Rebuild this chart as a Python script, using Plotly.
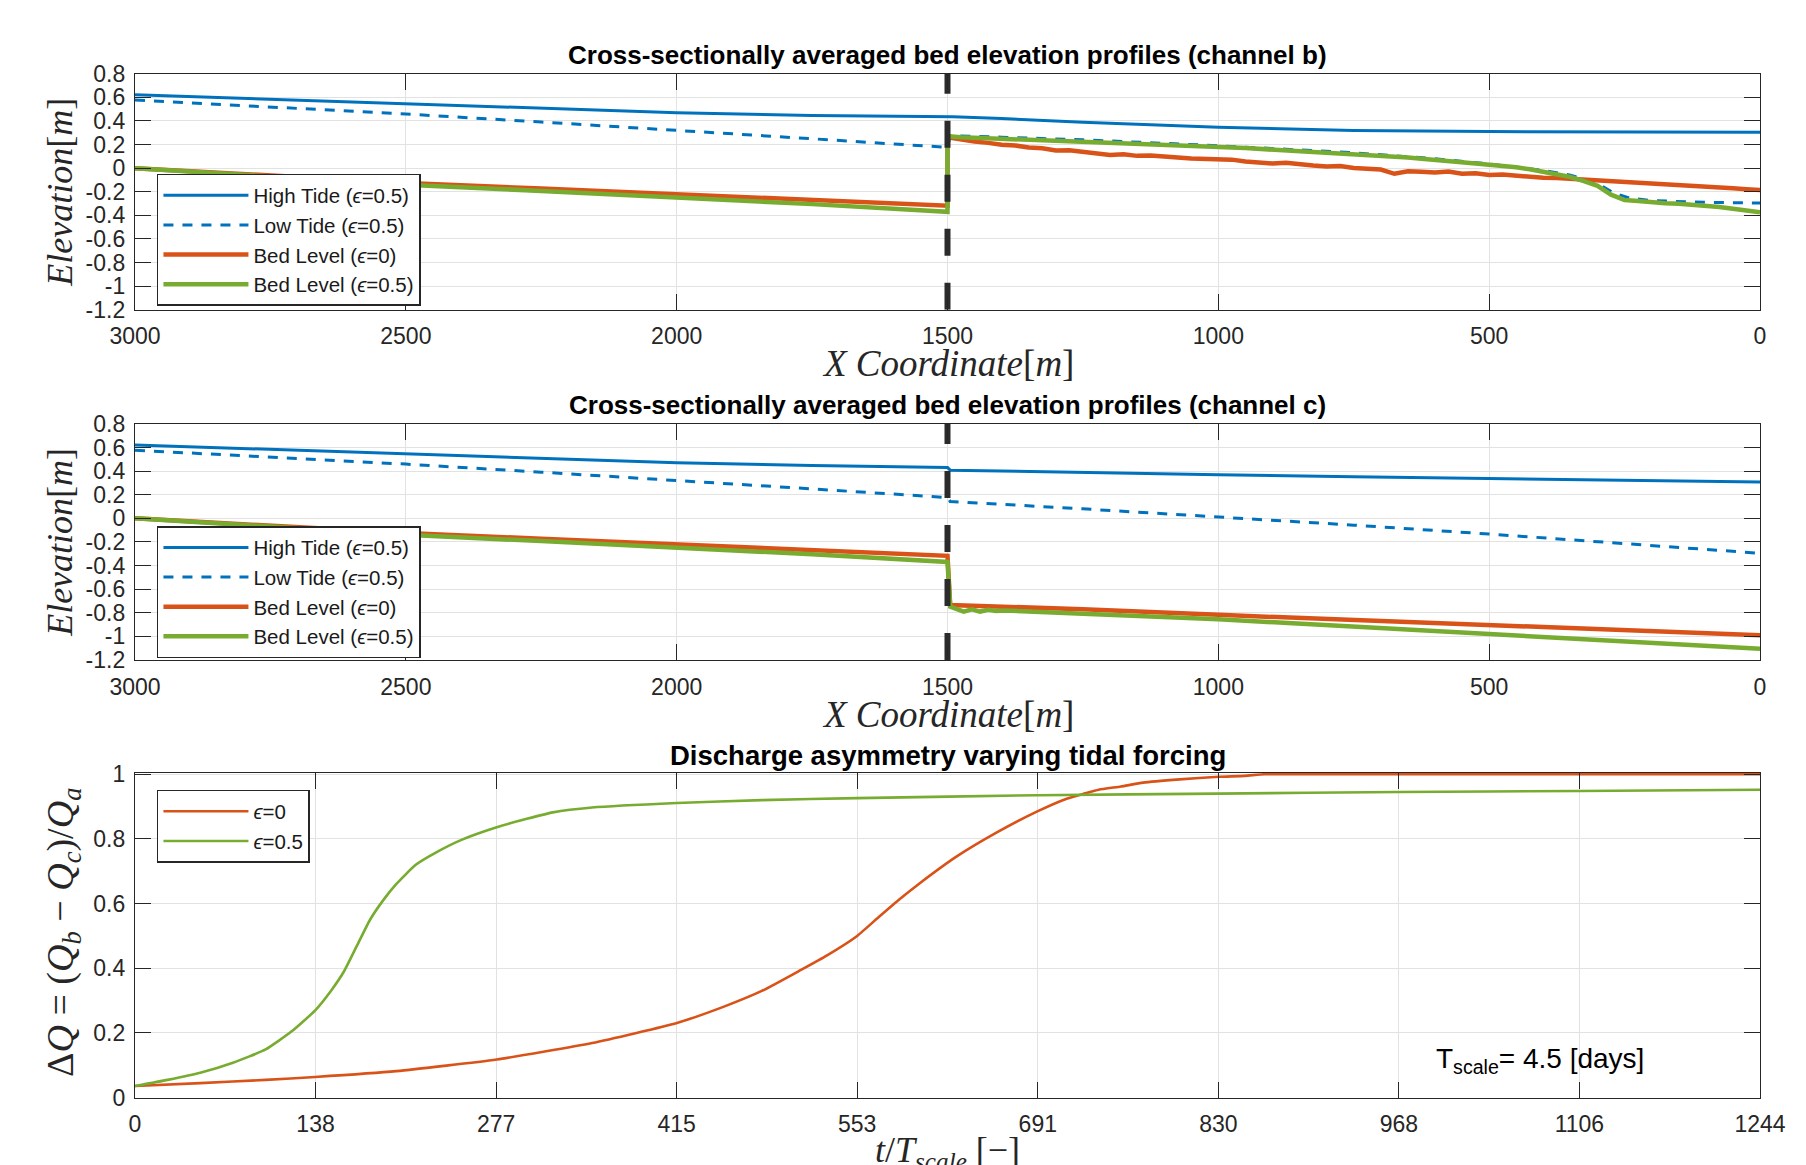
import plotly.graph_objects as go

# ---------------- data ----------------
# shared upstream reach (channel a), x from 3000 to 1500
x_a = [3000, 2750, 2500, 2250, 2000, 1750, 1500]
high_a = [0.622, 0.583, 0.543, 0.504, 0.470, 0.447, 0.431]
low_a = [0.577, 0.520, 0.459, 0.391, 0.317, 0.249, 0.176]
bed0_a = [0.0, -0.065, -0.125, -0.173, -0.220, -0.268, -0.318]
bed05_a = [0.0, -0.072, -0.140, -0.193, -0.245, -0.305, -0.370]

# channel b (1500 -> 0)
xb_high = [1495, 1490, 1400, 1250, 1000, 750, 500, 250, 0]
high_b = [0.433, 0.435, 0.420, 0.388, 0.346, 0.318, 0.310, 0.307, 0.305]
xb_low = [1495, 1400, 1250, 1000, 750, 600, 500, 400, 350, 300, 270, 240, 200, 100, 0]
low_b = [0.275, 0.262, 0.240, 0.190, 0.130, 0.080, 0.035, -0.020, -0.060, -0.130,
         -0.210, -0.255, -0.275, -0.290, -0.296]
xb_bed = list(range(1500, -1, -25))
bed0_b = [0.262, 0.240, 0.226, 0.214, 0.198, 0.192, 0.175, 0.168, 0.150, 0.152,
          0.138, 0.130, 0.112, 0.118, 0.104, 0.108, 0.095, 0.090, 0.082, 0.078,
          0.068, 0.072, 0.056, 0.052, 0.040, 0.046, 0.030, 0.022, 0.014, 0.018,
          0.002, -0.004, -0.012,
          -0.048, -0.026, -0.030, -0.036, -0.028, -0.048, -0.044, -0.058, -0.054,
          -0.066, -0.074, -0.082, -0.084, -0.090, -0.098, -0.104, -0.112, -0.118,
          -0.124, -0.130, -0.136, -0.142, -0.150, -0.156, -0.162, -0.170, -0.178,
          -0.186]
bed05_b = [0.270, 0.262, 0.258, 0.255, 0.250, 0.248, 0.242, 0.240, 0.236, 0.232,
           0.228, 0.222, 0.218, 0.214, 0.208, 0.204, 0.198, 0.194, 0.190, 0.184,
           0.180, 0.175, 0.170, 0.164, 0.158, 0.152, 0.146, 0.140, 0.132, 0.126,
           0.120, 0.112, 0.104,
           0.098, 0.090, 0.080, 0.072, 0.060, 0.050, 0.040, 0.028, 0.020, 0.008,
           -0.010, -0.030, -0.050, -0.075, -0.110, -0.150, -0.225, -0.270, -0.278,
           -0.290, -0.298, -0.302, -0.310, -0.322, -0.330, -0.345, -0.360, -0.375]

# channel c (1500 -> 0)
xc_high = [1495, 1400, 1250, 1000, 750, 500, 250, 0]
high_c = [0.408, 0.400, 0.387, 0.370, 0.352, 0.336, 0.322, 0.308]
xc_low = [1495, 1250, 1000, 750, 500, 250, 0]
low_c = [0.143, 0.080, 0.014, -0.058, -0.133, -0.212, -0.296]
xc_bed0 = [1495, 1400, 1250, 1000, 750, 500, 250, 0]
bed0_c = [-0.735, -0.745, -0.770, -0.818, -0.860, -0.903, -0.946, -0.990]
xc_bed05 = [1495, 1485, 1470, 1455, 1440, 1425, 1410, 1395, 1350, 1250, 1000, 750, 500, 250, 0]
bed05_c = [-0.748, -0.765, -0.790, -0.772, -0.790, -0.775, -0.785, -0.780, -0.790,
           -0.808, -0.855, -0.918, -0.980, -1.042, -1.105]

junction_x = [1500, 1500]
junction_y = [-1.2, 0.8]

# discharge asymmetry
t_e05 = [0, 25, 50, 75, 100, 120, 138, 150, 160, 170, 180, 190, 200, 215, 230, 250,
         277, 300, 320, 350, 415, 480, 553, 691, 830, 968, 1106, 1244.4]
dq_e05 = [0.036, 0.055, 0.077, 0.108, 0.149, 0.205, 0.270, 0.330, 0.390, 0.470, 0.550,
          0.610, 0.660, 0.720, 0.757, 0.797, 0.836, 0.862, 0.882, 0.897, 0.911, 0.920,
          0.926, 0.935, 0.940, 0.945, 0.948, 0.952]
t_e0 = [0, 50, 100, 138, 200, 277, 350, 415, 450, 480, 510, 530, 553, 570, 585, 600, 629,
        660, 691, 714, 727, 738, 755, 772, 800, 830, 850, 865, 900, 1000, 1100, 1244.4]
dq_e0 = [0.036, 0.045, 0.055, 0.064, 0.082, 0.118, 0.169, 0.231, 0.280, 0.330, 0.395,
         0.440, 0.500, 0.560, 0.612, 0.660, 0.745, 0.820, 0.885, 0.925, 0.940, 0.952,
         0.962, 0.974, 0.984, 0.992, 0.995, 1.000, 1.000, 1.000, 1.000, 1.000]

x_ticks = [3000, 2500, 2000, 1500, 1000, 500, 0]
x_ticktext = ["3000", "2500", "2000", "1500", "1000", "500", "0"]
y_ticks = [0.8, 0.6, 0.4, 0.2, 0, -0.2, -0.4, -0.6, -0.8, -1, -1.2]
y_ticktext = ["0.8", "0.6", "0.4", "0.2", "0", "-0.2", "-0.4", "-0.6", "-0.8", "-1", "-1.2"]
t_max = 1244.4
t_ticks = [k * t_max / 9 for k in range(10)]
t_ticktext = ["0", "138", "277", "415", "553", "691", "830", "968", "1106", "1244"]
q_ticks = [0, 0.2, 0.4, 0.6, 0.8, 1]
q_ticktext = ["0", "0.2", "0.4", "0.6", "0.8", "1"]

# ---------------- style ----------------
BLUE = "#0072BD"
RED = "#D95319"
GREEN = "#77AC30"
AX = "#262626"
SANS = "Liberation Sans, Arial, sans-serif"
SERIF = "Liberation Serif, Times New Roman, serif"

fig = go.Figure()


def profile(xax, yax, leg, xhi, yhi, xlo, ylo, xb0, yb0, xb5, yb5):
    fig.add_trace(go.Scatter(x=x_a + xhi, y=high_a + yhi, mode="lines", xaxis=xax, yaxis=yax,
                             legend=leg, name="High Tide (<i>ϵ</i>=0.5)",
                             line=dict(color=BLUE, width=3)))
    fig.add_trace(go.Scatter(x=x_a + xlo, y=low_a + ylo, mode="lines", xaxis=xax, yaxis=yax,
                             legend=leg, name="Low Tide (<i>ϵ</i>=0.5)",
                             line=dict(color=BLUE, width=3, dash="10px,9px")))
    fig.add_trace(go.Scatter(x=x_a + xb0, y=bed0_a + yb0, mode="lines", xaxis=xax, yaxis=yax,
                             legend=leg, name="Bed Level (<i>ϵ</i>=0)",
                             line=dict(color=RED, width=4.5)))
    fig.add_trace(go.Scatter(x=x_a + xb5, y=bed05_a + yb5, mode="lines", xaxis=xax, yaxis=yax,
                             legend=leg, name="Bed Level (<i>ϵ</i>=0.5)",
                             line=dict(color=GREEN, width=4.5)))
    fig.add_trace(go.Scatter(x=junction_x, y=[junction_y[0], junction_y[1]], mode="lines",
                             xaxis=xax, yaxis=yax, showlegend=False, hoverinfo="skip",
                             line=dict(color="#2b2b2b", width=6, dash="27px,27px")))


profile("x", "y", "legend", xb_high, high_b, xb_low, low_b, xb_bed, bed0_b, xb_bed, bed05_b)
profile("x2", "y2", "legend2", xc_high, high_c, xc_low, low_c, xc_bed0, bed0_c, xc_bed05, bed05_c)

fig.add_trace(go.Scatter(x=t_e0, y=dq_e0, mode="lines", xaxis="x3", yaxis="y3", legend="legend3",
                         name="<i>ϵ</i>=0", line=dict(color=RED, width=2.6, shape="spline", smoothing=0.5)))
fig.add_trace(go.Scatter(x=t_e05, y=dq_e05, mode="lines", xaxis="x3", yaxis="y3", legend="legend3",
                         name="<i>ϵ</i>=0.5", line=dict(color=GREEN, width=2.6, shape="spline", smoothing=0.5)))

axis_common = dict(showline=True, linecolor=AX, linewidth=1.3, mirror="ticks", ticks="inside",
                   ticklen=16, tickwidth=1.3, tickcolor=AX, showgrid=True, gridcolor="#e2e2e2",
                   gridwidth=1.3, zeroline=False,
                   tickfont=dict(family=SANS, size=23, color=AX))

dom_top = [0.7514, 0.9689]
dom_mid = [0.4286, 0.6462]
dom_bot = [0.0252, 0.3245]

fig.update_layout(
    width=1806, height=1165, plot_bgcolor="white", paper_bgcolor="white",
    margin=dict(l=127, r=54, t=32, b=48),
    xaxis=dict(axis_common, domain=[0, 1], range=[3000, 0], anchor="y",
               tickvals=x_ticks, ticktext=x_ticktext, ticklabelstandoff=6),
    yaxis=dict(axis_common, domain=dom_top, range=[-1.2, 0.8], anchor="x",
               tickvals=y_ticks, ticktext=y_ticktext, ticklabelstandoff=4),
    xaxis2=dict(axis_common, domain=[0, 1], range=[3000, 0], anchor="y2",
                tickvals=x_ticks, ticktext=x_ticktext, ticklabelstandoff=6),
    yaxis2=dict(axis_common, domain=dom_mid, range=[-1.2, 0.8], anchor="x2",
                tickvals=y_ticks, ticktext=y_ticktext, ticklabelstandoff=4),
    xaxis3=dict(axis_common, domain=[0, 1], range=[0, t_max], anchor="y3",
                tickvals=t_ticks, ticktext=t_ticktext, ticklabelstandoff=6),
    yaxis3=dict(axis_common, domain=dom_bot, range=[0, 1.004], anchor="x3",
                tickvals=q_ticks, ticktext=q_ticktext, ticklabelstandoff=4),
    showlegend=True,
)

leg_common = dict(xanchor="left", yanchor="top", bgcolor="white", bordercolor=AX, borderwidth=1.5,
                  font=dict(family=SANS, size=20.5, color="#1a1a1a"), itemwidth=85,
                  tracegroupgap=0)
fig.update_layout(
    legend=dict(leg_common, x=0.0135, y=0.8765),
    legend2=dict(leg_common, x=0.0135, y=0.552),
    legend3=dict(leg_common, x=0.0135, y=0.3088),
)

annotations = []
titles = [("Cross-sectionally averaged bed elevation profiles (channel b)", 0.9859, 26),
          ("Cross-sectionally averaged bed elevation profiles (channel c)", 0.6632, 26),
          ("Discharge asymmetry varying tidal forcing", 0.3405, 27.5)]
for txt, yy, fs in titles:
    annotations.append(dict(text="<b>" + txt + "</b>", x=0.5, y=yy, xref="paper", yref="paper",
                            xanchor="center", yanchor="middle", showarrow=False,
                            font=dict(family=SANS, size=fs, color="black")))

ylab = "<i>Elevation</i>[<i>m</i>]"
xlab = "<i>X Coordinate</i>[<i>m</i>]"
for yy in (0.8601, 0.5374):
    annotations.append(dict(text=ylab, x=-0.0462, y=yy, xref="paper", yref="paper", textangle=-90,
                            xanchor="center", yanchor="middle", showarrow=False,
                            font=dict(family=SERIF, size=36, color=AX)))
for yy in (0.7014, 0.3788):
    annotations.append(dict(text=xlab, x=0.5, y=yy, xref="paper", yref="paper",
                            xanchor="center", yanchor="middle", showarrow=False,
                            font=dict(family=SERIF, size=37, color=AX)))
annotations.append(dict(
    text="Δ<i>Q</i> = (<i>Q</i><sub><i>b</i></sub> − <i>Q</i><sub><i>c</i></sub>)/<i>Q</i><sub><i>a</i></sub>",
    x=-0.0443, y=0.177, xref="paper", yref="paper", textangle=-90, xanchor="center",
    yanchor="middle", showarrow=False, font=dict(family=SERIF, size=38, color=AX)))
annotations.append(dict(
    text="<i>t</i>/<i>T</i><sub><i>scale</i></sub> [−]",
    x=0.5, y=-0.0249, xref="paper", yref="paper", xanchor="center", yanchor="middle",
    showarrow=False, font=dict(family=SERIF, size=36, color=AX)))
annotations.append(dict(
    text="T<sub>scale</sub>= 4.5 [days]", x=0.7994, y=0.0599, xref="paper", yref="paper",
    xanchor="left", yanchor="middle", showarrow=False,
    font=dict(family=SANS, size=28, color="black")))
fig.update_layout(annotations=annotations)

fig.write_html("out.html")
